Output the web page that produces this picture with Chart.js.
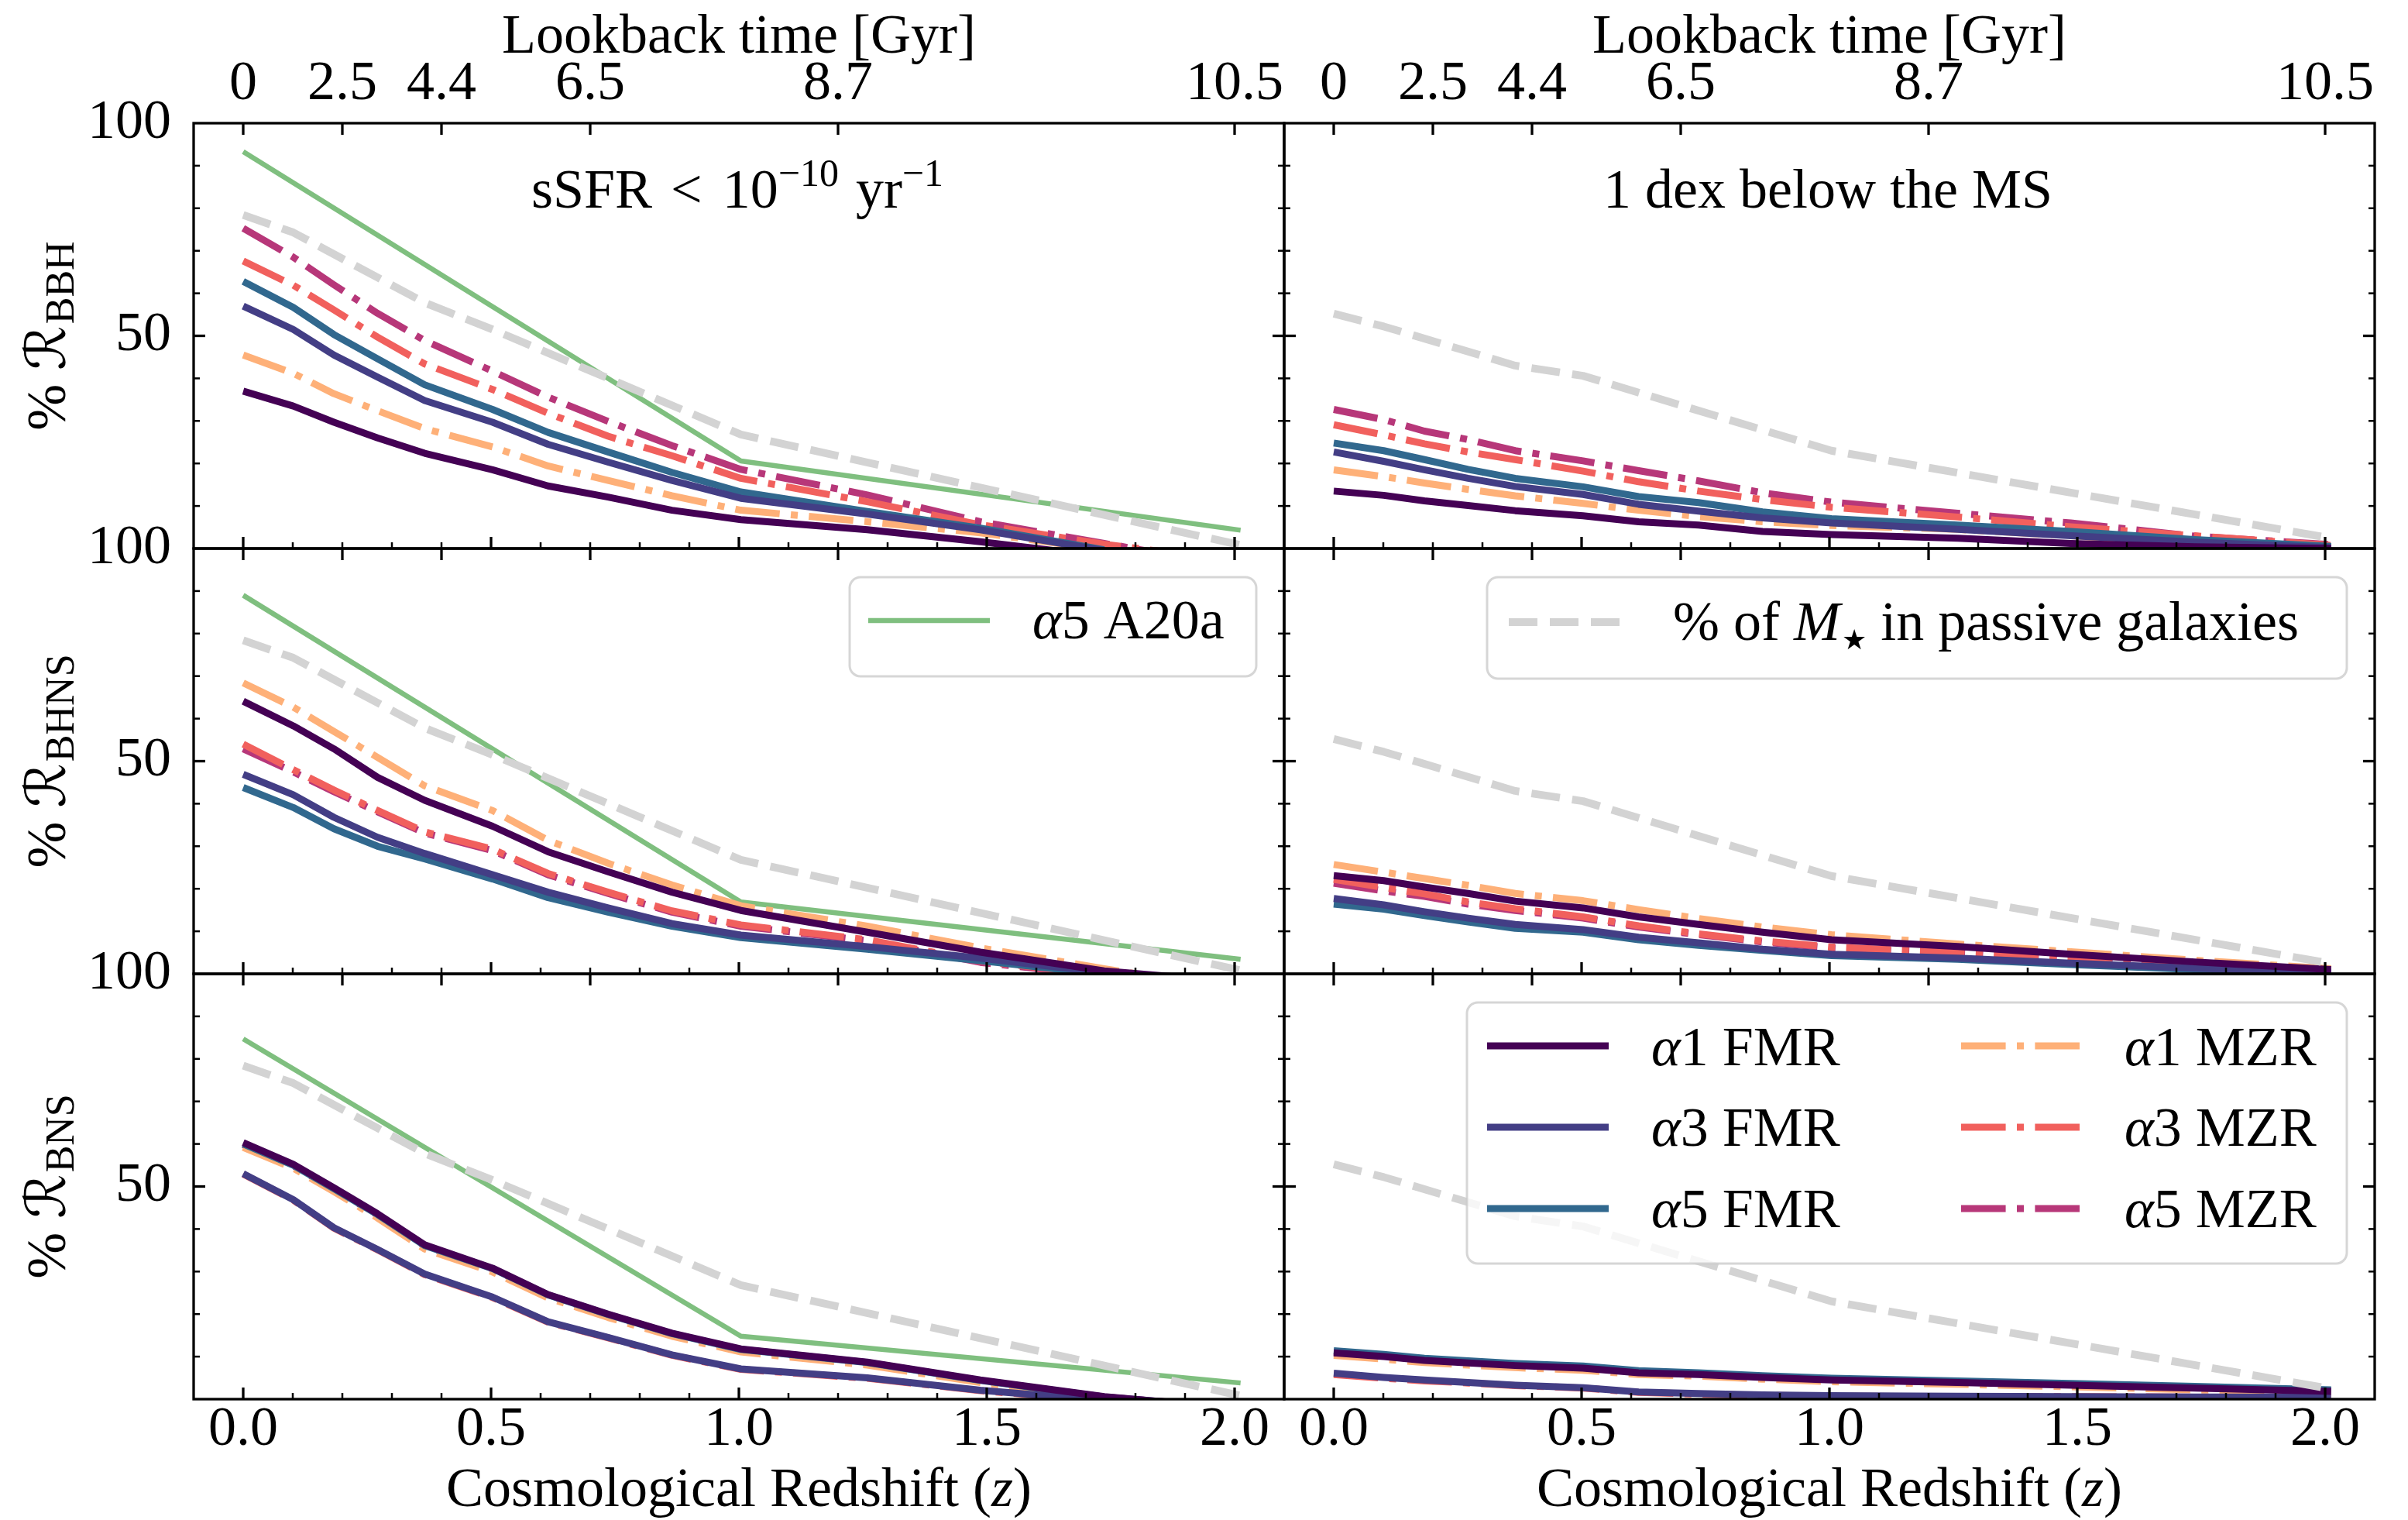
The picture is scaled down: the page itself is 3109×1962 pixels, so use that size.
<!DOCTYPE html>
<html>
<head>
<meta charset="utf-8">
<title>Fraction of merger rates from passive galaxies</title>
<script src="https://cdn.jsdelivr.net/npm/chart.js@4.4.1/dist/chart.umd.min.js"></script>
<style>
  html, body { margin: 0; padding: 0; background: #fff; }
  #figure { position: relative; width: 3109px; height: 1962px; overflow: hidden; }
  #figure canvas { position: absolute; left: 0; top: 0; }
</style>
</head>
<body>
<div id="figure"></div>
<script>
// Snapshot redshifts used by the model curves
const zSnap = [0, 0.101, 0.183, 0.271, 0.366, 0.503, 0.615, 0.736, 0.865, 1.004, 1.259, 1.487, 1.737, 2.012];
const zPassive = [0, 0.101, 0.366, 0.503, 1.004, 2.012];
const zA20a = [0, 1.004, 2.012];

// Axis ticks
const zTicks = [0, 0.5, 1.0, 1.5, 2.0];
const lookbackZ = [0, 0.2, 0.4, 0.7, 1.2, 2.0];
const lookbackLabels = ["0", "2.5", "4.4", "6.5", "8.7", "10.5"];
const yTicks = [50, 100];

// % of stellar mass in passive galaxies (same in every row)
const passiveSsfr = [78.4, 74.3, 57.8, 51.5, 26.8, 0.8];
const passiveMs = [55.2, 52.2, 43.0, 40.6, 23.0, 2.4];

// BBH, sSFR < 1e-10 / yr
const bbhSsfrA1Fmr = [37.0, 33.5, 29.7, 26.0, 22.4, 18.5, 14.7, 12.1, 9.0, 6.8, 4.4, 1.6, -1.9, null];
const bbhSsfrA3Fmr = [57.0, 51.5, 45.5, 40.3, 34.8, 29.7, 24.5, 20.3, 16.0, 11.8, 8.1, 4.4, -0.5, null];
const bbhSsfrA5Fmr = [62.8, 56.7, 50.3, 44.6, 38.5, 32.7, 27.3, 22.7, 17.9, 13.3, 8.7, 4.8, -0.3, null];
const bbhSsfrA1Mzr = [45.5, 41.2, 36.4, 32.4, 28.2, 23.9, 19.4, 16.0, 12.4, 9.0, 6.3, 3.7, -0.3, null];
const bbhSsfrA3Mzr = [67.6, 61.9, 56.1, 49.7, 43.4, 37.4, 31.8, 26.4, 21.8, 16.5, 11.0, 5.6, 1.0, -3.0];
const bbhSsfrA5Mzr = [75.3, 68.5, 62.0, 55.3, 48.9, 41.7, 35.6, 29.9, 24.2, 18.6, 12.6, 6.3, 1.2, -4.4];
const bbhA20a = [93.3, 20.6, 4.3];

// BBH, 1 dex below the MS
const bbhMsA1Fmr = [13.5, 12.5, 11.2, 10.1, 8.9, 7.7, 6.3, 5.5, 4.0, 3.3, 2.4, 1.2, 0.4, 0.0];
const bbhMsA3Fmr = [22.7, 20.5, 18.5, 16.5, 14.6, 12.7, 10.4, 8.8, 7.2, 6.0, 4.5, 3.0, 1.5, 0.2];
const bbhMsA5Fmr = [24.8, 23.0, 20.9, 18.6, 16.5, 14.5, 12.2, 10.8, 8.6, 7.0, 5.5, 4.0, 2.1, 0.5];
const bbhMsA1Mzr = [18.5, 16.9, 15.4, 13.9, 12.4, 10.6, 9.0, 7.5, 6.3, 5.4, 4.5, 3.0, 1.2, 0.2];
const bbhMsA3Mzr = [29.1, 26.7, 24.6, 22.7, 20.9, 18.2, 15.7, 13.5, 11.5, 9.7, 7.4, 5.1, 3.0, 0.7];
const bbhMsA5Mzr = [32.7, 30.3, 27.6, 25.6, 23.0, 20.6, 18.3, 15.9, 13.1, 10.9, 8.3, 6.0, 2.9, 0.9];

// BHNS, sSFR
const bhnsSsfrA1Fmr = [64.1, 58.3, 52.9, 46.2, 40.8, 34.7, 28.7, 24.0, 19.2, 14.9, 9.8, 5.1, 0.7, -2.0];
const bhnsSsfrA3Fmr = [46.9, 42.1, 36.8, 32.1, 28.3, 23.3, 19.2, 15.5, 11.8, 9.1, 6.4, 3.7, 0.3, -2.0];
const bhnsSsfrA5Fmr = [43.8, 39.1, 34.1, 30.0, 27.0, 22.3, 17.9, 14.5, 11.2, 8.5, 5.8, 3.1, -0.1, -2.5];
const bhnsSsfrA1Mzr = [68.4, 62.7, 57.0, 50.9, 44.2, 38.4, 31.4, 26.0, 20.9, 16.0, 11.2, 6.1, 1.2, -4.0];
const bhnsSsfrA3Mzr = [54.0, 48.0, 43.2, 38.4, 33.4, 29.3, 23.6, 19.2, 14.8, 11.5, 8.0, 3.0, -0.3, -3.0];
const bhnsSsfrA5Mzr = [52.9, 47.5, 42.8, 38.1, 33.1, 29.0, 23.3, 18.9, 14.5, 11.2, 7.8, 2.7, -0.5, -3.0];
const bhnsA20a = [89.0, 16.9, 3.4];

// BHNS, MS
const bhnsMsA1Fmr = [23.1, 21.9, 20.4, 18.9, 17.1, 15.5, 13.4, 11.6, 9.8, 8.0, 6.4, 4.6, 2.8, 1.0];
const bhnsMsA3Fmr = [17.7, 16.2, 14.6, 13.1, 11.6, 10.4, 8.6, 7.3, 5.8, 4.6, 3.7, 2.5, 1.3, 0.4];
const bhnsMsA5Fmr = [16.4, 15.2, 13.7, 12.2, 10.7, 9.8, 8.0, 6.7, 5.5, 4.3, 3.4, 2.2, 1.0, 0.2];
const bhnsMsA1Mzr = [25.7, 23.9, 22.4, 20.8, 18.9, 17.2, 15.1, 13.0, 11.0, 9.2, 7.0, 5.2, 3.2, 1.2];
const bhnsMsA3Mzr = [22.2, 20.3, 18.8, 16.9, 15.3, 13.4, 11.3, 9.4, 7.7, 6.3, 5.0, 3.5, 1.9, 0.6];
const bhnsMsA5Mzr = [21.3, 19.5, 18.2, 16.4, 14.9, 13.1, 11.0, 9.2, 7.5, 6.1, 4.9, 3.4, 1.8, 0.5];

// BNS, sSFR
const bnsSsfrA1Fmr = [60.3, 55.2, 49.7, 43.6, 36.3, 30.8, 24.6, 20.0, 15.5, 11.8, 8.7, 4.5, 0.6, -2.2];
const bnsSsfrA3Fmr = [53.0, 46.9, 40.3, 35.2, 29.4, 24.0, 18.2, 14.5, 10.4, 7.1, 5.0, 2.1, -0.3, -2.5];
const bnsSsfrA5Fmr = [60.0, 55.0, 49.5, 43.4, 36.1, 30.7, 24.5, 19.9, 15.4, 11.7, 8.6, 4.4, 0.5, -2.1];
const bnsSsfrA1Mzr = [59.2, 54.3, 48.8, 42.6, 35.3, 29.9, 23.8, 19.2, 14.8, 11.1, 8.0, 3.9, 0.2, -2.5];
const bnsSsfrA3Mzr = [52.9, 46.8, 40.2, 35.1, 29.3, 23.9, 18.1, 14.4, 10.3, 7.0, 4.9, 2.0, -0.4, -2.5];
const bnsSsfrA5Mzr = [59.8, 54.9, 49.4, 43.3, 36.0, 30.6, 24.4, 19.8, 15.3, 11.6, 8.5, 4.3, 0.5, -2.0];
const bnsA20a = [84.7, 14.8, 3.8];

// BNS, MS
const bnsMsA1Fmr = [10.9, 10.0, 9.1, 8.5, 7.9, 7.3, 6.2, 5.8, 5.1, 4.5, 3.9, 3.3, 2.6, 1.8];
const bnsMsA3Fmr = [6.1, 5.1, 4.5, 3.9, 3.3, 2.7, 1.7, 1.3, 1.0, 0.8, 0.7, 0.6, 0.5, 0.5];
const bnsMsA5Fmr = [11.4, 10.5, 9.6, 9.0, 8.4, 7.8, 6.7, 6.2, 5.5, 4.9, 4.3, 3.7, 3.0, 2.2];
const bnsMsA1Mzr = [10.3, 9.4, 8.6, 8.0, 7.4, 6.8, 5.8, 5.4, 4.7, 4.1, 3.5, 2.9, 2.2, 1.4];
const bnsMsA3Mzr = [5.8, 4.9, 4.3, 3.8, 3.2, 2.6, 1.6, 1.2, 0.9, 0.7, 0.6, 0.6, 0.5, 0.5];
const bnsMsA5Mzr = [11.1, 10.2, 9.3, 8.7, 8.1, 7.5, 6.4, 6.0, 5.3, 4.7, 4.1, 3.5, 2.8, 2.0];

const seriesLabels = ["α1 FMR", "α3 FMR", "α5 FMR", "α1 MZR", "α3 MZR", "α5 MZR"];
const seriesColors = ["#440154", "#433e85", "#31688e", "#feb078", "#f1605d", "#b73779"];

// ---- layout / style ----
const W = 3109, H = 1962;
const FONT = "'Liberation Serif', 'DejaVu Serif', 'DejaVu Sans', serif";
Chart.defaults.font.family = FONT;
Chart.defaults.color = "#000";

const colEdges = [[250, 1658], [1658, 3066]];
const rowEdges = [[159, 708], [708, 1257], [1257, 1806]];
const mzrDash = [57.6, 14.4, 9, 14.4];
const passiveDash = [37, 16];

function points(zs, vals) {
  return zs.map((z, i) => ({ x: z, y: vals[i] }));
}

function fontFor(p) {
  return (p.it ? "italic " : "") + (p.s || 72) + "px " + FONT;
}

// draw a run of text pieces with different sizes / offsets
function drawRich(ctx, parts, x, y, align) {
  let w = 0;
  parts.forEach(p => {
    ctx.font = fontFor(p);
    w += (p.gap || 0) + ctx.measureText(p.t).width;
  });
  let cx = align === "center" ? x - w / 2 : x;
  ctx.textAlign = "left";
  ctx.textBaseline = "alphabetic";
  ctx.fillStyle = "#000";
  parts.forEach(p => {
    ctx.font = fontFor(p);
    cx += p.gap || 0;
    ctx.fillText(p.t, cx, y - (p.rise || 0));
    cx += ctx.measureText(p.t).width;
  });
}

function labelParts(s) {
  return [{ t: s[0], it: true }, { t: s.slice(1) }];
}

const noteSsfr = [
  { t: "sSFR" }, { t: "<", gap: 24 }, { t: "10", gap: 26 },
  { t: "−10", s: 50, rise: 28 }, { t: "yr", gap: 22 }, { t: "−1", s: 50, rise: 28 }
];
const noteMs = [{ t: "1 dex below the MS" }];

const legendA20a = {
  box: [1097, 745, 1622, 873],
  items: [{ ds: 7, x: 1121, y: 801, tx: 1333, ty: 824, text: [{ t: "α", it: true }, { t: "5 A20a" }] }]
};
const legendPassive = {
  box: [1920, 745, 3030, 876],
  items: [{ ds: 0, x: 1948, y: 803, tx: 2160, ty: 826,
    text: [{ t: "% of " }, { t: "M", it: true }, { t: "★", s: 36, rise: -12, gap: 2 }, { t: " in passive galaxies" }] }]
};
const legendModels = {
  box: [1894, 1294, 3030, 1631],
  items: seriesLabels.map((s, i) => ({
    ds: i + 1,
    x: i < 3 ? 1920 : 2532,
    y: [1350, 1455, 1560][i % 3],
    tx: i < 3 ? 2132 : 2743,
    ty: [1375, 1479, 1584][i % 3],
    text: labelParts(s)
  }))
};

const panels = [
  { row: 0, col: 0, series: [bbhSsfrA1Fmr, bbhSsfrA3Fmr, bbhSsfrA5Fmr, bbhSsfrA1Mzr, bbhSsfrA3Mzr, bbhSsfrA5Mzr],
    passive: passiveSsfr, a20a: bbhA20a, sub: "BBH", note: noteSsfr },
  { row: 0, col: 1, series: [bbhMsA1Fmr, bbhMsA3Fmr, bbhMsA5Fmr, bbhMsA1Mzr, bbhMsA3Mzr, bbhMsA5Mzr],
    passive: passiveMs, note: noteMs },
  { row: 1, col: 0, series: [bhnsSsfrA1Fmr, bhnsSsfrA3Fmr, bhnsSsfrA5Fmr, bhnsSsfrA1Mzr, bhnsSsfrA3Mzr, bhnsSsfrA5Mzr],
    passive: passiveSsfr, a20a: bhnsA20a, sub: "BHNS", legend: legendA20a },
  { row: 1, col: 1, series: [bhnsMsA1Fmr, bhnsMsA3Fmr, bhnsMsA5Fmr, bhnsMsA1Mzr, bhnsMsA3Mzr, bhnsMsA5Mzr],
    passive: passiveMs, legend: legendPassive },
  { row: 2, col: 0, series: [bnsSsfrA1Fmr, bnsSsfrA3Fmr, bnsSsfrA5Fmr, bnsSsfrA1Mzr, bnsSsfrA3Mzr, bnsSsfrA5Mzr],
    passive: passiveSsfr, a20a: bnsA20a, sub: "BNS" },
  { row: 2, col: 1, series: [bnsMsA1Fmr, bnsMsA3Fmr, bnsMsA5Fmr, bnsMsA1Mzr, bnsMsA3Mzr, bnsMsA5Mzr],
    passive: passiveMs, legend: legendModels }
];

function buildDatasets(p) {
  const ds = [{
    label: "% of M* in passive galaxies",
    data: points(zPassive, p.passive),
    borderColor: "#d3d3d3", borderWidth: 10, borderDash: passiveDash
  }];
  p.series.forEach((vals, i) => {
    ds.push({
      label: seriesLabels[i],
      data: points(zSnap, vals),
      borderColor: seriesColors[i], borderWidth: 9,
      borderDash: i >= 3 ? mzrDash : []
    });
  });
  if (p.a20a) {
    ds.push({ label: "α5 A20a", data: points(zA20a, p.a20a), borderColor: "rgba(0,128,0,0.5)", borderWidth: 6.5, borderDash: [] });
  }
  ds.forEach(d => {
    d.pointRadius = 0;
    d.fill = false;
    d.tension = 0;
    d.clip = 0;
    d.borderJoinStyle = "round";
    d.borderCapStyle = "butt";
  });
  return ds;
}

function seg(ctx, x1, y1, x2, y2, w) {
  ctx.lineWidth = w;
  ctx.beginPath();
  ctx.moveTo(x1, y1);
  ctx.lineTo(x2, y2);
  ctx.stroke();
}

function drawFrame(chart) {
  const { ctx, chartArea: a, scales } = chart;
  const xs = scales.x, ys = scales.y;
  ctx.save();
  ctx.strokeStyle = "#000";
  ctx.setLineDash([]);
  ctx.lineCap = "butt";
  // bottom ticks: major 0.5, minor 0.1
  for (let k = 0; k <= 20; k++) {
    const px = xs.getPixelForValue(k / 10);
    const major = k % 5 === 0;
    seg(ctx, px, a.bottom, px, a.bottom - (major ? 15 : 8), major ? 3.3 : 2.5);
  }
  // top ticks at lookback times
  lookbackZ.forEach(v => {
    const px = xs.getPixelForValue(v);
    seg(ctx, px, a.top, px, a.top + 15, 3.3);
  });
  // left and right ticks
  for (let k = 1; k < 10; k++) {
    const py = ys.getPixelForValue(k * 10);
    const major = k === 5;
    const len = major ? 15 : 8, w = major ? 3.3 : 2.5;
    seg(ctx, a.left, py, a.left + len, py, w);
    seg(ctx, a.right, py, a.right - len, py, w);
  }
  ctx.lineWidth = 3.3;
  ctx.strokeRect(a.left, a.top, a.right - a.left, a.bottom - a.top);
  ctx.restore();
}

function drawLegend(chart, lg) {
  const ctx = chart.ctx;
  const [x0, y0, x1, y1] = lg.box;
  ctx.save();
  ctx.beginPath();
  ctx.roundRect(x0, y0, x1 - x0, y1 - y0, 14);
  ctx.fillStyle = "rgba(255,255,255,0.8)";
  ctx.fill();
  ctx.lineWidth = 3;
  ctx.strokeStyle = "rgba(204,204,204,0.8)";
  ctx.stroke();
  lg.items.forEach(it => {
    const d = chart.data.datasets[it.ds];
    ctx.strokeStyle = d.borderColor;
    ctx.lineWidth = d.borderWidth;
    ctx.setLineDash(d.borderDash || []);
    ctx.lineCap = "butt";
    ctx.beginPath();
    ctx.moveTo(it.x, it.y);
    ctx.lineTo(it.x + 157, it.y);
    ctx.stroke();
    ctx.setLineDash([]);
    drawRich(ctx, it.text, it.tx, it.ty, "left");
  });
  ctx.restore();
}

function makePanel(p) {
  const [x0, x1] = colEdges[p.col];
  const [y0, y1] = rowEdges[p.row];
  const canvas = document.createElement("canvas");
  canvas.width = W;
  canvas.height = H;
  document.getElementById("figure").appendChild(canvas);
  const tickFont = { size: 72, lineHeight: 1, family: FONT };

  // axis boxes carry the outer margins so their labels are not clipped
  const leftBox = p.col === 0 ? x0 : 0;
  const topBox = p.row === 0 ? y0 : 0;
  const bottomBox = p.row === 2 ? H - y1 : 0;

  const deco = {
    id: "deco",
    afterDatasetsDraw(chart) {
      const ctx = chart.ctx, a = chart.chartArea;
      drawFrame(chart);
      const cx = (a.left + a.right) / 2;
      ctx.save();
      if (p.note) drawRich(ctx, p.note, cx - 2, 268, "center");
      if (p.row === 0) drawRich(ctx, [{ t: "Lookback time [Gyr]" }], cx, 68, "center");
      if (p.row === 2) {
        drawRich(ctx, [{ t: "Cosmological Redshift (" }, { t: "z", it: true }, { t: ")" }], cx, 1944, "center");
      }
      if (p.sub) {
        ctx.translate(84, (a.top + a.bottom) / 2);
        ctx.rotate(-Math.PI / 2);
        drawRich(ctx, [{ t: "%" }, { t: "ℛ", gap: 18 }, { t: p.sub, s: 52, rise: -11, gap: 2 }], 0, 0, "center");
      }
      ctx.restore();
      if (p.legend) drawLegend(chart, p.legend);
    }
  };

  new Chart(canvas, {
    type: "line",
    data: { datasets: buildDatasets(p) },
    options: {
      responsive: false,
      animation: false,
      devicePixelRatio: 1,
      layout: { padding: { left: x0 - leftBox, right: W - x1, top: y0 - topBox, bottom: H - y1 - bottomBox } },
      plugins: { legend: { display: false }, tooltip: { enabled: false } },
      scales: {
        x: {
          type: "linear", position: "bottom", min: -0.1, max: 2.1,
          grid: { display: false, drawTicks: false }, border: { display: false },
          afterBuildTicks: s => { s.ticks = zTicks.map(v => ({ value: v })); },
          afterFit: s => { s.height = bottomBox; },
          ticks: { display: p.row === 2, font: tickFont, padding: 4, autoSkip: false, maxRotation: 0,
                   callback: v => v.toFixed(1) }
        },
        xTop: {
          type: "linear", position: "top", min: -0.1, max: 2.1,
          grid: { display: false, drawTicks: false }, border: { display: false },
          afterBuildTicks: s => { s.ticks = lookbackZ.map(v => ({ value: v })); },
          afterFit: s => { s.height = topBox; },
          ticks: { display: p.row === 0, font: tickFont, padding: 14, autoSkip: false, maxRotation: 0,
                   callback: (v, i) => lookbackLabels[i] }
        },
        y: {
          type: "linear", position: "left", min: 0, max: 100,
          grid: { display: false, drawTicks: false }, border: { display: false },
          afterBuildTicks: s => { s.ticks = yTicks.map(v => ({ value: v })); },
          afterFit: s => { s.width = leftBox; },
          ticks: { display: p.col === 0, font: tickFont, padding: 29, autoSkip: false,
                   callback: v => String(v) }
        }
      }
    },
    plugins: [deco]
  });
}

panels.forEach(makePanel);
</script>
</body>
</html>
